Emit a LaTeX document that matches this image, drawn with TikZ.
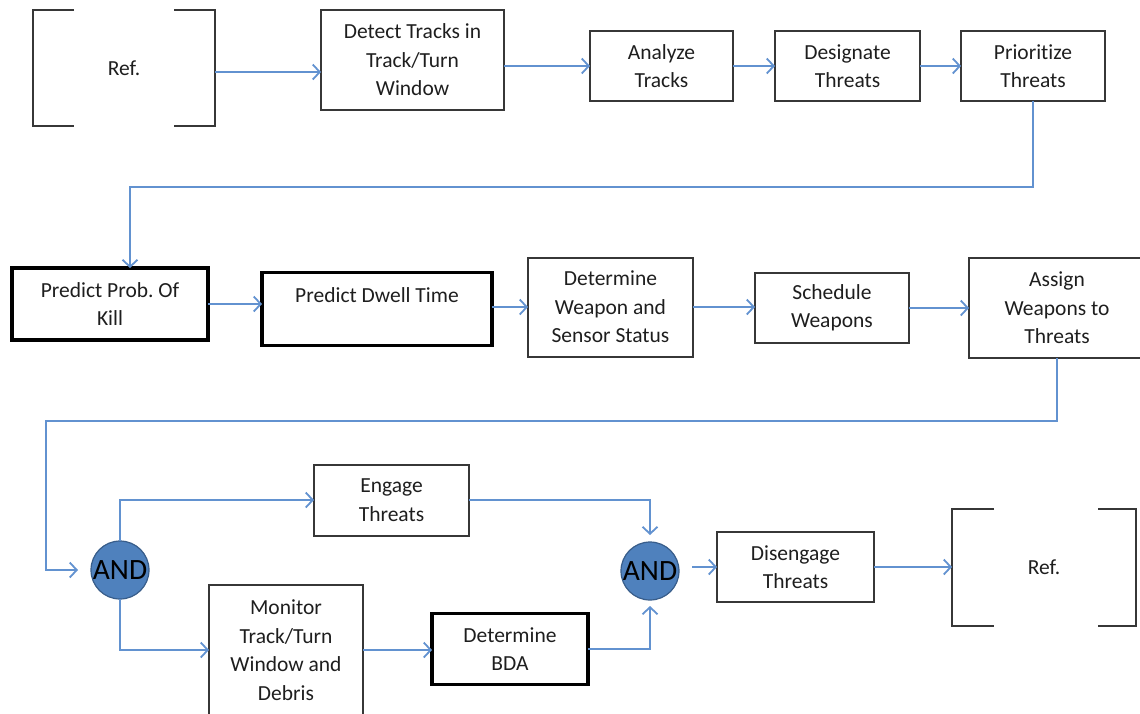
\documentclass[tikz,border=0pt]{standalone}
\usepackage{fontspec}
\setmainfont{Carlito}[Ligatures=NoCommon]
\frenchspacing
\usetikzlibrary{arrows.meta}
\definecolor{arrc}{RGB}{98,146,208}
\definecolor{andfill}{RGB}{79,129,189}
\definecolor{anddraw}{RGB}{56,93,138}
\definecolor{boxline}{RGB}{55,55,55}
\definecolor{txt}{RGB}{30,30,30}
\tikzset{
  base/.style={rectangle, outer sep=0pt, inner sep=2pt, align=center, text=txt,
    font=\fontsize{21.5}{28.5}\selectfont},
  box/.style={base, draw=boxline, line width=2pt},
  tbox/.style={base, draw=black, line width=3.4pt},
  refn/.style={base},
  brk/.style={draw=boxline, line width=2.2pt},
  andc/.style={circle, fill=andfill, draw=anddraw, line width=1.2pt, minimum size=58pt,
    inner sep=0pt, outer sep=0pt, text=black, font=\fontsize{29.5}{30}\selectfont},
  arr/.style={draw=arrc, line width=1.8pt, -{Straight Barb[length=7pt,width=15pt]}},
  ln/.style={draw=arrc, line width=1.8pt}
}
\begin{document}
\begin{tikzpicture}[x=1pt,y=-1pt]
\useasboundingbox (0,0) rectangle (1140,713);
% row 1
\node[refn, minimum width=182pt, minimum height=116pt] (ref1) at (124,68) {Ref.};
\draw[brk] ([xshift=41pt]ref1.north west) -- (ref1.north west) -- (ref1.south west) -- ([xshift=41pt]ref1.south west);
\draw[brk] ([xshift=-41pt]ref1.north east) -- (ref1.north east) -- (ref1.south east) -- ([xshift=-41pt]ref1.south east);
\node[box, minimum width=183pt, minimum height=100pt] (detect) at (412.5,60) {Detect Tracks in\\Track/Turn\\Window};
\node[box, minimum width=143pt, minimum height=70pt] (analyze) at (661.5,66) {Analyze\\Tracks};
\node[box, minimum width=145pt, minimum height=70pt] (designate) at (847.5,66) {Designate\\Threats};
\node[box, minimum width=144pt, minimum height=70pt] (prior) at (1033,66) {Prioritize\\Threats};
% row 2
\node[tbox, minimum width=196pt, minimum height=72pt] (probkill) at (110,304) {Predict Prob. Of\\Kill};
\node[tbox, minimum width=230pt, minimum height=73pt] (dwell) at (377,309) {Predict Dwell Time\\\mbox{}};
\node[box, minimum width=165pt, minimum height=99pt] (determine) at (610.5,307) {Determine\\Weapon and\\Sensor Status};
\node[box, minimum width=154pt, minimum height=70pt] (schedule) at (832,308) {Schedule\\Weapons};
\node[box, minimum width=176pt, minimum height=100pt] (assign) at (1057,308) {Assign\\Weapons to\\Threats};
% row 3
\node[andc] (and1) at (120,570) {AND};
\node[box, minimum width=155pt, minimum height=71pt] (engage) at (391.5,500) {Engage\\Threats};
\node[box, minimum width=154pt, minimum height=130pt] (monitor) at (286,650) {Monitor\\Track/Turn\\Window and\\Debris};
\node[tbox, minimum width=156pt, minimum height=71pt] (bda) at (510,649) {Determine\\BDA};
\node[andc] (and2) at (650,571) {AND};
\node[box, minimum width=157pt, minimum height=70pt] (disengage) at (795.5,567) {Disengage\\Threats};
\node[refn, minimum width=184pt, minimum height=117pt] (ref2) at (1044,567.5) {Ref.};
\draw[brk] ([xshift=42pt]ref2.north west) -- (ref2.north west) -- (ref2.south west) -- ([xshift=42pt]ref2.south west);
\draw[brk] ([xshift=-38pt]ref2.north east) -- (ref2.north east) -- (ref2.south east) -- ([xshift=-38pt]ref2.south east);
% connectors row 1
\draw[arr] ([yshift=-4pt]ref1.east) -- ([yshift=-4pt]ref1.east -| detect.west);
\draw[arr] (detect.east |- analyze.west) -- (analyze.west);
\draw[arr] (analyze.east) -- (designate.west);
\draw[arr] (designate.east) -- (prior.west);
\coordinate (c0) at (130,187);
\draw[arr] (prior.south) |- (c0) -- (c0 |- probkill.north);
% connectors row 2
\draw[arr] (probkill.east) -- (probkill.east -| dwell.west);
\draw[arr] ([yshift=2pt]dwell.east) -- ([yshift=2pt]dwell.east -| determine.west);
\draw[arr] (determine.east) -- (determine.east -| schedule.west);
\draw[arr] (schedule.east) -- (schedule.east -| assign.west);
\coordinate (c1) at (46,421);
\draw[arr, shorten >=13pt] (assign.south) |- (c1) |- (and1.west);
% connectors row 3
\draw[arr] (and1.north) |- (engage.west);
\draw[arr] (and1.south) |- (monitor.west);
\draw[arr] (monitor.east) -- (monitor.east -| bda.west);
\draw[arr, shorten >=7pt] (engage.east) -| (and2.north);
\draw[arr, shorten >=6pt] (bda.east) -| (and2.south);
\draw[arr, shorten <=13pt] (and2.east |- disengage.west) -- (disengage.west);
\draw[arr] (disengage.east) -- (disengage.east -| ref2.west);
\end{tikzpicture}
\end{document}
